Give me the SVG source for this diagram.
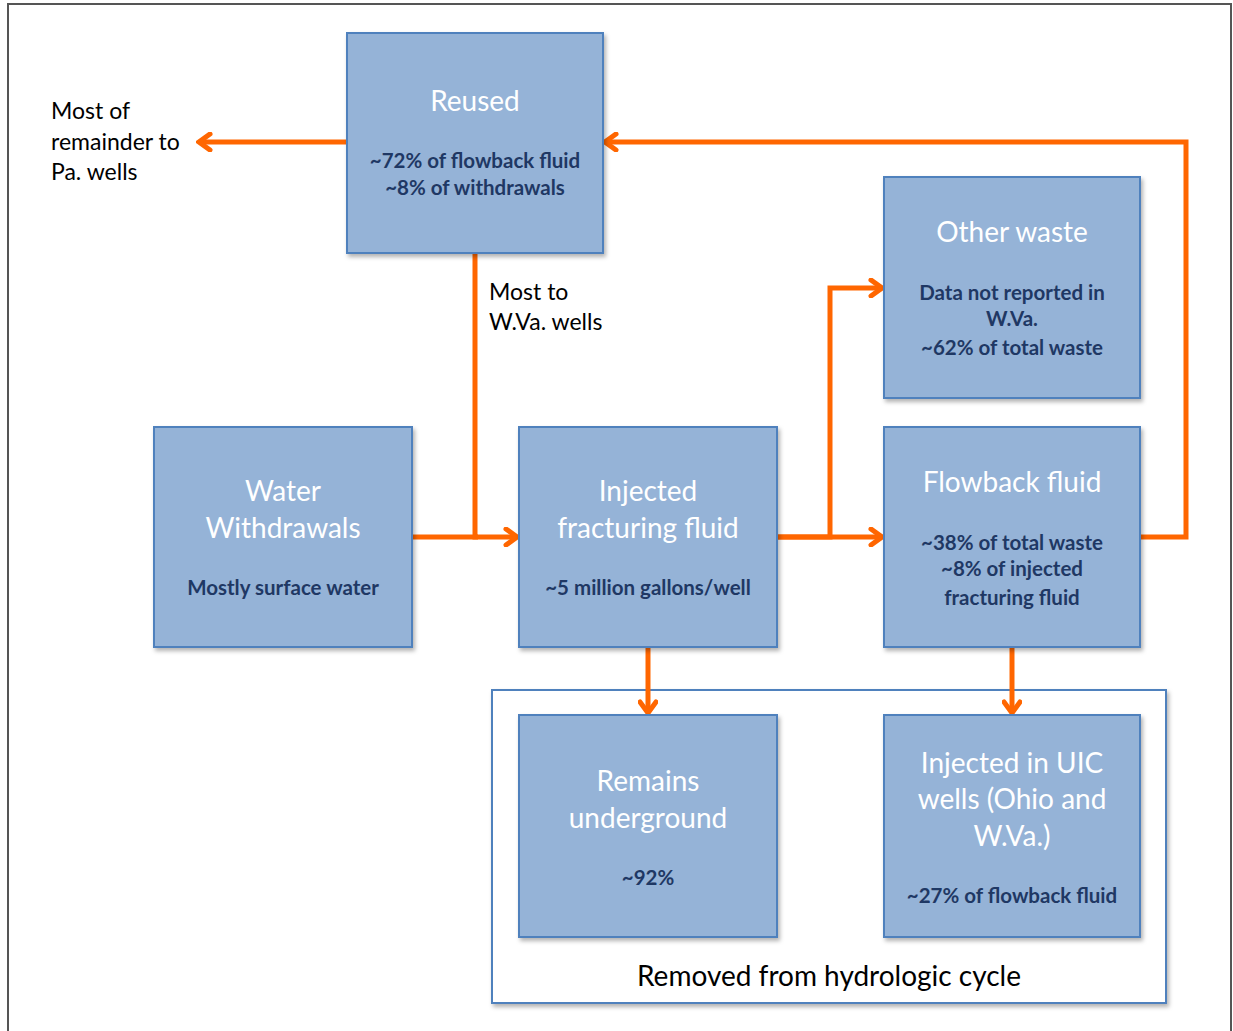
<svg xmlns="http://www.w3.org/2000/svg" width="1233" height="1031" viewBox="0 0 1233 1031">
<defs>
<filter id="sh" x="-10%" y="-10%" width="130%" height="130%">
<feDropShadow dx="2" dy="3" stdDeviation="2" flood-color="#000" flood-opacity="0.3"/>
</filter>
<marker id="arr" viewBox="0 0 20 20" refX="17" refY="10" markerWidth="20" markerHeight="20" markerUnits="userSpaceOnUse" orient="auto">
<polyline points="6,2 17,10 6,18" fill="none" stroke="#FF6600" stroke-width="5" stroke-linecap="round" stroke-linejoin="miter"/>
</marker>
<style>
.box{fill:#95B3D7;stroke:#4F81BD;stroke-width:2;filter:url(#sh)}
.t{font-family:Lato,"Open Sans",sans-serif;font-size:28px;fill:#fff;text-anchor:middle}
.s{font-family:Lato,"Open Sans",sans-serif;font-size:20.5px;font-weight:bold;fill:#1F3864;text-anchor:middle}
.l{font-family:Lato,"Open Sans",sans-serif;font-size:23px;fill:#000}
.big{font-family:Lato,"Open Sans",sans-serif;font-size:28px;fill:#000;text-anchor:middle}
.c{fill:none;stroke:#FF6600;stroke-width:5;stroke-linejoin:miter}
</style>
</defs>
<rect x="0" y="0" width="1233" height="1031" fill="#fff"/>
<rect x="8" y="4" width="1223" height="1040" fill="none" stroke="#555" stroke-width="2"/>
<g id="group-removed">
<rect x="492" y="690" width="674" height="313" fill="#fff" stroke="#4F81BD" stroke-width="2" filter="url(#sh)"/>
<text class="big" x="829" y="986">Removed from hydrologic cycle</text>
</g>
<g id="connectors">
<path class="c" d="M347,142 H199" marker-end="url(#arr)"/>
<path class="c" d="M475,253 V537 H517" marker-end="url(#arr)"/>
<path class="c" d="M412,537 H478"/>
<path class="c" d="M777,537 H882" marker-end="url(#arr)"/>
<path class="c" d="M777,537 H830 V288 H882" marker-end="url(#arr)"/>
<path class="c" d="M1140,537 H1186 V142 H605" marker-end="url(#arr)"/>
<path class="c" d="M648,647 V713" marker-end="url(#arr)"/>
<path class="c" d="M1012,647 V713" marker-end="url(#arr)"/>
</g>
<g id="label-pa">
<text class="l" x="51" y="119">Most of</text>
<text class="l" x="51" y="150">remainder to</text>
<text class="l" x="51" y="180">Pa. wells</text>
</g>
<g id="label-wva">
<text class="l" x="489" y="300">Most to</text>
<text class="l" x="489" y="330">W.Va. wells</text>
</g>
<g id="node-reused">
<rect class="box" x="347" y="33" width="256" height="220"/>
<text class="t" x="475" y="111">Reused</text>
<text class="s" x="475" y="168">~72% of flowback fluid</text>
<text class="s" x="475" y="195">~8% of withdrawals</text>
</g>
<g id="node-other">
<rect class="box" x="884" y="177" width="256" height="221"/>
<text class="t" x="1012" y="242">Other waste</text>
<text class="s" x="1012" y="300">Data not reported in</text>
<text class="s" x="1012" y="326">W.Va.</text>
<text class="s" x="1012" y="355">~62% of total waste</text>
</g>
<g id="node-withdrawals">
<rect class="box" x="154" y="427" width="258" height="220"/>
<text class="t" x="283" y="501">Water</text>
<text class="t" x="283" y="538">Withdrawals</text>
<text class="s" x="283" y="595">Mostly surface water</text>
</g>
<g id="node-injected">
<rect class="box" x="519" y="427" width="258" height="220"/>
<text class="t" x="648" y="501">Injected</text>
<text class="t" x="648" y="538">fracturing fluid</text>
<text class="s" x="648" y="595">~5 million gallons/well</text>
</g>
<g id="node-flowback">
<rect class="box" x="884" y="427" width="256" height="220"/>
<text class="t" x="1012" y="492">Flowback fluid</text>
<text class="s" x="1012" y="550">~38% of total waste</text>
<text class="s" x="1012" y="576">~8% of injected</text>
<text class="s" x="1012" y="605">fracturing fluid</text>
</g>
<g id="node-remains">
<rect class="box" x="519" y="715" width="258" height="222"/>
<text class="t" x="648" y="791">Remains</text>
<text class="t" x="648" y="828">underground</text>
<text class="s" x="648" y="885">~92%</text>
</g>
<g id="node-uic">
<rect class="box" x="884" y="715" width="256" height="222"/>
<text class="t" x="1012" y="773">Injected in UIC</text>
<text class="t" x="1012" y="809">wells (Ohio and</text>
<text class="t" x="1012" y="846">W.Va.)</text>
<text class="s" x="1012" y="903">~27% of flowback fluid</text>
</g>
</svg>
